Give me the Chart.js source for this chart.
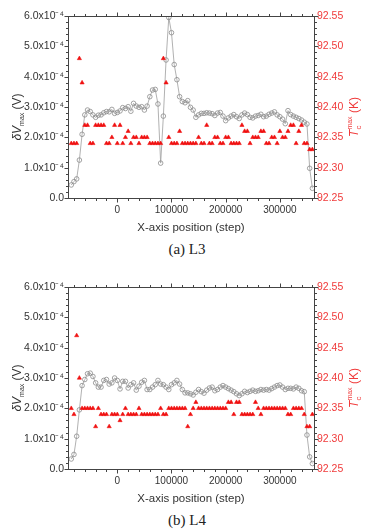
<!DOCTYPE html>
<html lang="en">
<head>
<meta charset="UTF-8">
<title>dV max and Tc max along the X axis, L3 and L4</title>
<script src="https://cdn.jsdelivr.net/npm/chart.js"></script>
<style>
    body { margin: 0; background: #fff; width: 366px; height: 531px; position: relative; overflow: hidden; }
    canvas { position: absolute; left: 0; }
    #c1 { top: 0; }
    #c2 { top: 271px; }
    .caption {
        position: absolute; left: 150px; width: 74px; text-align: center;
        font: 15px 'Liberation Serif', 'Times New Roman', serif; color: #222; line-height: 18px;
    }
</style>
</head>
<body>
<canvas id="c1" width="366" height="240"></canvas>
<div class="caption" style="top:240px">(a) L3</div>
<canvas id="c2" width="366" height="240"></canvas>
<div class="caption" style="top:511px">(b) L4</div>

<script>
    // x positions (step) shared by both scans
    const positions = [
        -85000, -80000, -75000, -70000, -65000, -60000, -55000, -50000, -45000, -40000,
        -35000, -30000, -25000, -20000, -15000, -10000, -5000, 0, 5000, 10000,
        15000, 20000, 25000, 30000, 35000, 40000, 45000, 50000, 55000, 60000,
        65000, 70000, 75000, 80000, 85000, 90000, 95000, 100000, 105000, 110000,
        115000, 120000, 125000, 130000, 135000, 140000, 145000, 150000, 155000, 160000,
        165000, 170000, 175000, 180000, 185000, 190000, 195000, 200000, 205000, 210000,
        215000, 220000, 225000, 230000, 235000, 240000, 245000, 250000, 255000, 260000,
        265000, 270000, 275000, 280000, 285000, 290000, 295000, 300000, 305000, 310000,
        315000, 320000, 325000, 330000, 335000, 340000, 345000, 350000, 355000, 360000
    ];

    // dV max in units of 1e-4 V
    const dVmaxL3 = [
        0.43, 0.54, 0.63, 1.25, 2.10, 2.74, 2.90, 2.85, 2.74, 2.66,
        2.73, 2.74, 2.81, 2.85, 2.84, 2.92, 2.79, 2.82, 2.87, 2.98,
        2.95, 3.01, 2.86, 3.12, 3.03, 2.99, 3.01, 2.90, 3.03, 3.34,
        3.56, 3.58, 3.10, 1.15, 2.70, 4.55, 5.95, 5.45, 4.40, 3.90,
        3.34, 3.18, 3.14, 3.21, 2.99, 2.90, 2.66, 2.74, 2.79, 2.79,
        2.81, 2.80, 2.78, 2.72, 2.80, 2.82, 2.70, 2.55, 2.64, 2.70,
        2.75, 2.68, 2.62, 2.74, 2.80, 2.75, 2.66, 2.64, 2.70, 2.72,
        2.76, 2.68, 2.70, 2.76, 2.80, 2.84, 2.74, 2.68, 2.60, 2.45,
        2.88, 2.75, 2.70, 2.66, 2.62, 2.57, 2.50, 2.44, 0.98, 0.32
    ];
    const tcMaxL3 = [
        92.34, 92.34, 92.34, 92.48, 92.44, 92.37, 92.37, 92.34, 92.34, 92.37,
        92.37, 92.37, 92.37, 92.34, 92.34, 92.35, 92.37, 92.34, 92.37, 92.34,
        92.35, 92.36, 92.34, 92.35, 92.35, 92.34, 92.35, 92.35, 92.35, 92.34,
        92.34, 92.34, 92.34, 92.34, 92.48, 92.44, 92.35, 92.34, 92.34, 92.34,
        92.36, 92.34, 92.34, 92.34, 92.34, 92.34, 92.34, 92.35, 92.34, 92.34,
        92.37, 92.34, 92.34, 92.35, 92.35, 92.34, 92.34, 92.35, 92.35, 92.34,
        92.34, 92.34, 92.34, 92.37, 92.36, 92.36, 92.34, 92.35, 92.35, 92.35,
        92.36, 92.36, 92.34, 92.34, 92.35, 92.35, 92.34, 92.36, 92.35, 92.35,
        92.36, 92.37, 92.37, 92.34, 92.36, 92.37, 92.34, 92.34, 92.33, 92.33
    ];

    const dVmaxL4 = [
        0.33, 0.48, 1.08, 1.95, 2.75, 2.95, 3.14, 3.16, 3.05, 2.84,
        2.70, 2.70, 2.92, 2.95, 2.80, 2.84, 3.00, 2.92, 2.64, 2.89,
        2.89, 2.67, 2.78, 2.84, 2.60, 2.73, 2.86, 2.92, 2.62, 2.62,
        2.70, 2.78, 2.92, 2.80, 2.78, 2.70, 2.62, 2.78, 2.84, 2.92,
        2.80, 2.62, 2.51, 2.51, 2.48, 2.44, 2.53, 2.62, 2.55, 2.50,
        2.60, 2.67, 2.70, 2.58, 2.62, 2.70, 2.75, 2.70, 2.65, 2.60,
        2.55, 2.48, 2.42, 2.48, 2.56, 2.52, 2.56, 2.60, 2.56, 2.58,
        2.62, 2.60, 2.62, 2.60, 2.65, 2.70, 2.75, 2.77, 2.70, 2.62,
        2.66, 2.66, 2.64, 2.70, 2.66, 2.58, 2.55, 1.12, 0.40, 0.18
    ];
    const tcMaxL4 = [
        92.35, 92.34, 92.47, 92.40, 92.35, 92.35, 92.35, 92.35, 92.35, 92.32,
        92.35, 92.34, 92.34, 92.34, 92.32, 92.34, 92.34, 92.34, 92.33, 92.34,
        92.35, 92.34, 92.34, 92.34, 92.34, 92.35, 92.34, 92.34, 92.34, 92.34,
        92.34, 92.34, 92.34, 92.35, 92.34, 92.34, 92.35, 92.35, 92.35, 92.35,
        92.35, 92.35, 92.35, 92.32, 92.34, 92.35, 92.36, 92.35, 92.35, 92.35,
        92.35, 92.35, 92.35, 92.35, 92.35, 92.35, 92.35, 92.35, 92.36, 92.36,
        92.34, 92.36, 92.36, 92.34, 92.34, 92.34, 92.34, 92.34, 92.36, 92.35,
        92.34, 92.35, 92.35, 92.35, 92.35, 92.35, 92.35, 92.35, 92.35, 92.35,
        92.34, 92.34, 92.35, 92.35, 92.35, 92.35, 92.34, 92.32, 92.32, 92.34
    ];

    const xTickValues = [0, 100000, 200000, 300000];

    const RED = '#f01010';
    const RED_TEXT = '#f03a3a';
    const DARK = '#333';
    const FONT = "'Liberation Sans', Arial, sans-serif";

    Chart.defaults.font.family = FONT;

    // draws one rotated title made of normal / sub / superscript pieces
    function drawRotatedTitle(ctx, x, yc, groups, color) {
        ctx.save();
        ctx.translate(x, yc);
        ctx.rotate(-Math.PI / 2);
        ctx.fillStyle = color;
        ctx.textBaseline = 'alphabetic';
        let total = 0;
        groups.forEach(g => {
            g.w = 0;
            g.forEach(p => { ctx.font = p.font; g.w = Math.max(g.w, ctx.measureText(p.t).width); });
            total += g.w;
        });
        let cx = -total / 2;
        groups.forEach(g => {
            g.forEach(p => { ctx.font = p.font; ctx.fillText(p.t, cx, p.dy || 0); });
            cx += g.w;
        });
        ctx.restore();
    }

    const framePlugin = {
        id: 'frame',
        afterDraw(chart) {
            const {ctx, chartArea: a, scales} = chart;
            const L = Math.round(a.left) + 0.5, R = Math.round(a.right) + 0.5;
            const T = Math.round(a.top) + 0.5, B = Math.round(a.bottom) + 0.5;
            ctx.save();
            ctx.strokeStyle = '#444';
            ctx.lineWidth = 1;
            ctx.strokeRect(L, T, R - L, B - T);
            ctx.beginPath();
            // x ticks, outward on bottom and top
            for (let v = -80000; v <= 360000; v += 20000) {
                const px = Math.round(scales.x.getPixelForValue(v)) + 0.5;
                const len = v % 100000 === 0 ? 4 : 2.5;
                ctx.moveTo(px, B); ctx.lineTo(px, B + len);
                ctx.moveTo(px, T); ctx.lineTo(px, T - len);
            }
            // left ticks every 0.2e-4
            for (let k = 0; k <= 30; k++) {
                const py = Math.round(scales.y.getPixelForValue(k * 0.2)) + 0.5;
                const len = k % 5 === 0 ? 4 : 2.5;
                ctx.moveTo(L, py); ctx.lineTo(L - len, py);
            }
            // right ticks every 0.01 K
            for (let k = 0; k <= 30; k++) {
                const py = Math.round(scales.y2.getPixelForValue(92.25 + k * 0.01)) + 0.5;
                const len = k % 5 === 0 ? 4 : 2.5;
                ctx.moveTo(R, py); ctx.lineTo(R + len, py);
            }
            ctx.stroke();

            // x axis title
            ctx.fillStyle = DARK;
            ctx.font = '11.5px ' + FONT;
            ctx.textAlign = 'center';
            ctx.textBaseline = 'middle';
            ctx.fillText('X-axis position (step)', (a.left + a.right) / 2, a.bottom + 29.5);
            ctx.textAlign = 'left';
            ctx.restore();

            const yc = (a.top + a.bottom) / 2 + 10;
            drawRotatedTitle(ctx, 20.5, yc, [
                [{t: 'δV', font: 'italic 12px ' + FONT}],
                [{t: 'max', font: '7px ' + FONT, dy: 3}],
                [{t: ' (V)', font: '12px ' + FONT}]
            ], DARK);
            drawRotatedTitle(ctx, 358, yc, [
                [{t: 'T', font: 'italic 12px ' + FONT}],
                [{t: 'c', font: '8px ' + FONT, dy: 3}, {t: 'max', font: '7px ' + FONT, dy: -6}],
                [{t: ' (K)', font: '12px ' + FONT}]
            ], RED_TEXT);
        }
    };

    function makeChart(id, dv, tc) {
        const ctx = document.getElementById(id).getContext('2d');
        return new Chart(ctx, {
            type: 'line',
            data: {
                datasets: [
                    {
                        label: 'Tc max',
                        data: positions.map((x, i) => ({x: x, y: tc[i]})),
                        yAxisID: 'y2',
                        showLine: false,
                        pointStyle: 'triangle',
                        pointRadius: 2.4,
                        pointBackgroundColor: RED,
                        pointBorderColor: RED,
                        pointBorderWidth: 0.6,
                        order: 1
                    },
                    {
                        label: 'dV max',
                        data: positions.map((x, i) => ({x: x, y: dv[i]})),
                        yAxisID: 'y',
                        borderColor: '#a8a8a8',
                        borderWidth: 0.9,
                        tension: 0,
                        pointStyle: 'circle',
                        pointRadius: 2.3,
                        pointBackgroundColor: 'rgba(0,0,0,0)',
                        pointBorderColor: '#8c8c8c',
                        pointBorderWidth: 0.8,
                        order: 2
                    }
                ]
            },
            options: {
                responsive: false,
                animation: false,
                devicePixelRatio: 1,
                layout: { padding: { top: 16, left: 0, right: 0, bottom: 0 } },
                plugins: {
                    legend: { display: false },
                    tooltip: { enabled: false }
                },
                scales: {
                    x: {
                        type: 'linear',
                        min: -91000,
                        max: 363000,
                        afterFit: s => { s.height = 42; },
                        afterBuildTicks: s => { s.ticks = xTickValues.map(v => ({value: v})); },
                        grid: { display: false, drawTicks: false },
                        border: { display: false },
                        ticks: {
                            autoSkip: false,
                            maxRotation: 0,
                            padding: 6,
                            color: DARK,
                            font: { size: 10 },
                            callback: v => String(v)
                        }
                    },
                    y: {
                        position: 'left',
                        min: 0,
                        max: 6,
                        afterFit: s => { s.width = 68; },
                        grid: { display: false, drawTicks: false },
                        border: { display: false },
                        ticks: {
                            stepSize: 1,
                            padding: 4,
                            color: DARK,
                            font: { size: 10.5 },
                            callback: v => v === 0 ? '0.0' : v.toFixed(1) + 'x10⁻⁴'
                        }
                    },
                    y2: {
                        position: 'right',
                        min: 92.25,
                        max: 92.55,
                        afterFit: s => { s.width = 52; },
                        grid: { display: false, drawTicks: false },
                        border: { display: false },
                        ticks: {
                            stepSize: 0.05,
                            padding: 3,
                            color: RED_TEXT,
                            font: { size: 10.5 },
                            callback: v => v.toFixed(2)
                        }
                    }
                }
            },
            plugins: [framePlugin]
        });
    }

    makeChart('c1', dVmaxL3, tcMaxL3);
    makeChart('c2', dVmaxL4, tcMaxL4);
</script>
</body>
</html>
